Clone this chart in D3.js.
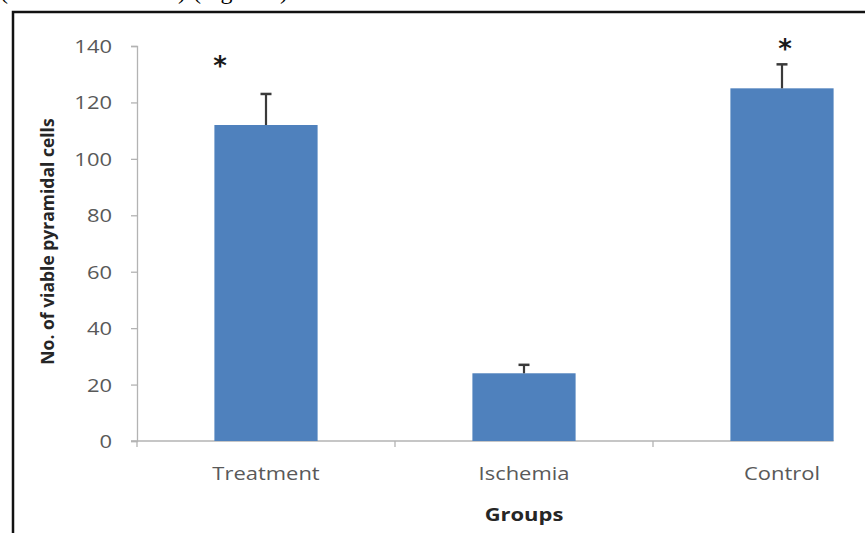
<!DOCTYPE html>
<html>
<head>
<meta charset="utf-8">
<script src="https://cdn.jsdelivr.net/npm/d3@7"></script>
<style>
  html, body { margin: 0; padding: 0; background: #fff; }
  svg { display: block; }
</style>
</head>
<body>
<svg id="chart" width="865" height="533"></svg>
<script>
// Viable pyramidal cell counts per group (mean with upper error bar)
const groups = ["Treatment", "Ischemia", "Control"];
const means = [112, 24, 125];
const errors = [11, 3, 8.5];
const significant = [true, false, true];
const yTicks = [0, 20, 40, 60, 80, 100, 120, 140];

const svg = d3.select("#chart");
const W = 865, H = 533;
const stretch = 1.22;   // horizontal stretch of the figure's lettering

// Caption line continuing from the surrounding text, running off the top edge
svg.append("text")
  .attr("x", 0).attr("y", -1)
  .attr("font-family", "Liberation Serif, serif")
  .attr("font-size", 24)
  .attr("fill", "#000")
  .attr("textLength", 186)
  .attr("lengthAdjust", "spacing")
  .text("(P < 0.05 vs. Ischemia)");
svg.append("text")
  .attr("x", 193).attr("y", -1)
  .attr("font-family", "Liberation Serif, serif")
  .attr("font-size", 24)
  .attr("fill", "#000")
  .attr("textLength", 95)
  .attr("lengthAdjust", "spacing")
  .text("(Figure 4)");

// Figure frame
svg.append("path")
  .attr("d", `M13,${H + 2} L13,12 L${W + 2},12`)
  .attr("fill", "none")
  .attr("stroke", "#111")
  .attr("stroke-width", 2.5);

const margin = { left: 137, top: 46, bottom: 441 };
const step = 258;
const x = d3.scaleBand()
  .domain(groups)
  .range([margin.left, margin.left + step * groups.length])
  .paddingInner(0.6)
  .paddingOuter(0.3);

const y = d3.scaleLinear()
  .domain([0, 140])
  .range([margin.bottom, margin.top]);

const axisColor = "#b3b3b3";
const labelColor = "#595959";
const font = "'Open Sans', sans-serif";
const fs = 18;

// Y axis
const yAxis = svg.append("g")
  .attr("transform", `translate(${margin.left},0)`)
  .call(d3.axisLeft(y).tickValues(yTicks).tickSize(6).tickPadding(14.5).tickSizeOuter(6));
yAxis.select(".domain").attr("stroke", axisColor).attr("stroke-width", 1.3);
yAxis.selectAll(".tick line").attr("stroke", axisColor).attr("stroke-width", 1.3);
yAxis.selectAll(".tick text")
  .attr("fill", labelColor)
  .attr("font-family", font)
  .attr("font-size", fs)
  .attr("dy", "0.36em")
  .attr("transform", `scale(${stretch},1)`);

// X axis: category boundaries as ticks
const xEnd = x("Control") + x.bandwidth();
const xAxis = svg.append("g");
xAxis.append("line")
  .attr("x1", margin.left - 6).attr("x2", xEnd)
  .attr("y1", y(0)).attr("y2", y(0))
  .attr("stroke", axisColor).attr("stroke-width", 1.3);
const bounds = groups.slice(1).map(g => x(g) - x.step() * x.paddingInner() / 2);
xAxis.selectAll("line.sep")
  .data([margin.left].concat(bounds))
  .join("line")
  .attr("class", "sep")
  .attr("x1", d => d).attr("x2", d => d)
  .attr("y1", y(0)).attr("y2", y(0) + 6)
  .attr("stroke", axisColor).attr("stroke-width", 1.3);
xAxis.selectAll("text")
  .data(groups)
  .join("text")
  .attr("transform", g => `translate(${x(g) + x.bandwidth() / 2},${y(0) + 39}) scale(${stretch},1)`)
  .attr("text-anchor", "middle")
  .attr("fill", labelColor)
  .attr("font-family", font)
  .attr("font-size", fs)
  .text(g => g);

// Bars
svg.selectAll("rect.bar")
  .data(groups)
  .join("rect")
  .attr("class", "bar")
  .attr("x", g => x(g))
  .attr("width", x.bandwidth())
  .attr("y", (g, i) => y(means[i]))
  .attr("height", (g, i) => y(0) - y(means[i]))
  .attr("fill", "#4f81bd");

// Error bars (upper only)
const eb = svg.selectAll("g.err")
  .data(groups)
  .join("g")
  .attr("class", "err");
eb.append("line")
  .attr("x1", g => x(g) + x.bandwidth() / 2)
  .attr("x2", g => x(g) + x.bandwidth() / 2)
  .attr("y1", (g, i) => y(means[i]))
  .attr("y2", (g, i) => y(means[i] + errors[i]))
  .attr("stroke", "#3a3a3a").attr("stroke-width", 2.2);
eb.append("line")
  .attr("x1", g => x(g) + x.bandwidth() / 2 - 5.5)
  .attr("x2", g => x(g) + x.bandwidth() / 2 + 5.5)
  .attr("y1", (g, i) => y(means[i] + errors[i]))
  .attr("y2", (g, i) => y(means[i] + errors[i]))
  .attr("stroke", "#3a3a3a").attr("stroke-width", 2.5);

// Significance markers, placed relative to each error bar top
const starOffset = { Treatment: [-46, -19], Control: [3, -6] };
svg.selectAll("text.star")
  .data(groups.filter((g, i) => significant[i]))
  .join("text")
  .attr("class", "star")
  .attr("x", g => x(g) + x.bandwidth() / 2 + starOffset[g][0])
  .attr("y", g => y(means[groups.indexOf(g)] + errors[groups.indexOf(g)]) + starOffset[g][1])
  .attr("text-anchor", "middle")
  .attr("font-family", "DejaVu Sans, sans-serif")
  .attr("font-size", 26)
  .attr("font-weight", "bold")
  .attr("fill", "#1a1a1a")
  .text("*");

// Axis titles
svg.append("text")
  .attr("transform", `translate(54,${(y(0) + y(140)) / 2 - 2}) rotate(-90)`)
  .attr("text-anchor", "middle")
  .attr("font-family", font)
  .attr("font-weight", "bold")
  .attr("font-size", 17.5)
  .attr("fill", "#262626")
  .text("No. of viable pyramidal cells");

svg.append("text")
  .attr("transform", `translate(${x("Ischemia") + x.bandwidth() / 2},521) scale(${stretch},1)`)
  .attr("text-anchor", "middle")
  .attr("font-family", font)
  .attr("font-weight", "bold")
  .attr("font-size", fs)
  .attr("fill", "#262626")
  .text("Groups");
</script>
</body>
</html>
